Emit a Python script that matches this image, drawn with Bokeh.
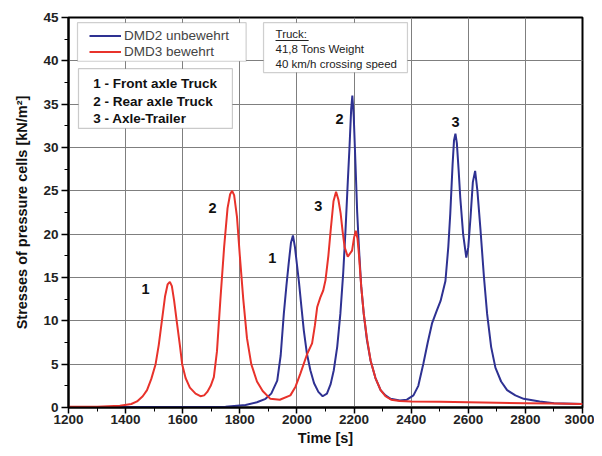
from bokeh.plotting import figure
from bokeh.models import (Range1d, SingleIntervalTicker, Legend, LegendItem,
                          BoxAnnotation, Label)
from bokeh.embed import file_html
from bokeh.resources import INLINE

# ---- data ----
red_time = [1200, 1300, 1380, 1420, 1440, 1460, 1475, 1490, 1505, 1516, 1527, 1538,
            1547, 1555, 1562, 1570, 1580, 1590, 1598, 1610, 1625, 1645, 1662, 1675,
            1686, 1698, 1709, 1720, 1732, 1745, 1757, 1766, 1773, 1780, 1790, 1800,
            1812, 1825, 1840, 1860, 1880, 1907, 1940, 1977, 1995, 2012, 2036, 2053,
            2063, 2071, 2082, 2092, 2100, 2110, 2118, 2128, 2137, 2145, 2153, 2160,
            2167, 2178, 2193, 2200, 2206, 2212, 2217, 2225, 2234, 2245, 2258, 2275,
            2293, 2310, 2330, 2360, 2400, 2500, 2600, 2700, 2800, 2900, 3000]
red_stress = [0.1, 0.1, 0.2, 0.4, 0.7, 1.3, 2.0, 3.3, 5.0, 7.2, 10.0, 12.8,
              14.2, 14.5, 14.0, 12.3, 9.7, 7.2, 5.0, 3.4, 2.3, 1.6, 1.3, 1.4,
              1.8, 2.5, 3.5, 6.5, 12.5, 18.5, 23.0, 24.6, 25.0, 24.5, 22.0, 17.5,
              12.5, 8.0, 5.0, 3.0, 1.9, 1.0, 0.9, 1.4, 2.4, 3.9, 6.2, 7.4,
              9.5, 11.6, 12.7, 13.5, 14.7, 17.5, 20.4, 23.8, 24.9, 24.0, 22.4, 20.3,
              18.5, 17.4, 18.1, 19.6, 20.4, 19.5, 17.7, 14.0, 10.8, 8.0, 5.4, 3.4,
              2.0, 1.3, 0.9, 0.75, 0.7, 0.65, 0.6, 0.55, 0.5, 0.45, 0.4]

blue_time = [1200, 1400, 1600, 1750, 1820, 1860, 1890, 1910, 1931, 1943, 1954, 1963,
             1971, 1979, 1986, 1993, 2000, 2007, 2016, 2024, 2035, 2047, 2060, 2075,
             2090, 2105, 2118, 2129, 2141, 2152, 2162, 2170, 2178, 2184, 2190, 2194,
             2199, 2205, 2211, 2217, 2225, 2234, 2245, 2258, 2275, 2293, 2310, 2328,
             2360, 2385, 2408, 2425, 2443, 2458, 2473, 2490, 2503, 2520, 2530, 2537,
             2545, 2550, 2555, 2560, 2566, 2572, 2582, 2593, 2600, 2608, 2616, 2624,
             2632, 2643, 2655, 2666, 2680, 2695, 2715, 2736, 2765, 2794, 2850, 2900,
             3000]
blue_stress = [0.05, 0.05, 0.05, 0.1, 0.3, 0.6, 1.0, 1.6, 3.1, 6.0, 10.8, 14.0,
               16.6, 19.0, 19.85, 18.5, 16.5, 14.5, 11.5, 8.9, 6.2, 4.3, 2.8, 1.8,
               1.3, 1.6, 2.7, 4.3, 7.0, 10.8, 15.5, 20.4, 26.0, 30.0, 34.5, 36.0,
               33.5, 28.1, 22.5, 18.5, 14.0, 10.8, 7.8, 5.4, 3.4, 2.0, 1.4, 1.0,
               0.8, 0.9, 1.4, 2.5, 5.1, 7.5, 9.7, 11.2, 12.3, 14.6, 18.5, 22.4,
               28.0, 30.8, 31.6, 30.5, 27.5, 24.2, 20.0, 17.3, 18.5, 22.0, 26.0, 27.3,
               25.0, 20.4, 15.0, 10.8, 7.0, 4.6, 3.0, 2.0, 1.4, 1.0, 0.7, 0.5,
               0.4]

series_names = ["DMD2 unbewehrt", "DMD3 bewehrt"]
peak_texts = ["1", "2", "1", "3", "2", "3"]
info_lines = ["1 - Front axle Truck", "2 - Rear axle Truck", "3 - Axle-Trailer"]
truck_lines = ["Truck:", "41,8 Tons Weight", "40 km/h crossing speed"]
x_label = "Time [s]"
y_label = "Stresses of pressure cells [kN/m²]"

BLUE = "#2e3192"
RED = "#e8322b"
FONT = "Liberation Sans"

p = figure(width=594, height=448, output_backend="svg", toolbar_location=None,
           x_range=Range1d(1200, 3000), y_range=Range1d(0, 45),
           min_border_left=68, min_border_right=12, min_border_top=17,
           min_border_bottom=41)
p.background_fill_color = "white"
p.outline_line_color = "black"
p.outline_line_width = 2

for ax, step, minor in ((p.xaxis[0], 200, 2), (p.yaxis[0], 5, 2)):
    ax.ticker = SingleIntervalTicker(interval=step, num_minor_ticks=minor)
    ax.axis_line_width = 2
    ax.axis_line_color = "black"
    ax.major_tick_line_width = 1.5
    ax.major_tick_out = 7
    ax.major_tick_in = 0
    ax.minor_tick_out = 4
    ax.minor_tick_in = 0
    ax.major_label_text_font = FONT
    ax.major_label_text_font_style = "bold"
    ax.major_label_text_font_size = "13.5px"
    ax.major_label_text_color = "#222222"
    ax.axis_label_text_font = FONT
    ax.axis_label_text_font_style = "bold"
    ax.axis_label_text_font_size = "14.5px"
    ax.axis_label_text_color = "#111111"
p.xaxis.axis_label = x_label
p.yaxis.axis_label = y_label
p.xaxis.major_tick_out = 6
p.xaxis.axis_label_standoff = 3
p.yaxis.axis_label_standoff = 10
p.xaxis.major_label_standoff = 1
p.yaxis.major_label_standoff = 3

p.grid.grid_line_color = "#7f7f7f"
p.grid.grid_line_width = 1
p.grid.grid_line_alpha = 1.0

r_blue = p.line(blue_time, blue_stress, line_color=BLUE, line_width=2)
r_red = p.line(red_time, red_stress, line_color=RED, line_width=2)

# legend frame
p.add_layout(BoxAnnotation(left=1231.5, right=1822, top=44.4, bottom=39.95,
                           fill_color="white", fill_alpha=1.0,
                           line_color="#606060", line_width=1.2))
for name, rend, yloc in ((series_names[0], r_blue, 364.0), (series_names[1], r_red, 348.5)):
    lg = Legend(items=[LegendItem(label=name, renderers=[rend])],
                location=(21, yloc), margin=0, padding=0, spacing=0,
                label_text_font=FONT, label_text_font_size="13.5px",
                label_height=15, glyph_height=15, glyph_width=32, label_standoff=3,
                border_line_alpha=0, background_fill_alpha=0)
    p.add_layout(lg)

# info box (axles)
p.add_layout(BoxAnnotation(left=1235, right=1774, top=39.1, bottom=32.2,
                           fill_color="white", fill_alpha=1.0,
                           line_color="#505050", line_width=1.2))
for i, t in enumerate(info_lines):
    p.add_layout(Label(x=1287, y=37.4 - i * 2.05, text=t, text_font=FONT,
                       text_font_style="bold", text_font_size="13.5px",
                       text_baseline="middle", text_color="#111111"))

# truck box
p.add_layout(BoxAnnotation(left=1883, right=2387, top=44.4, bottom=38.65,
                           fill_color="white", fill_alpha=1.0,
                           line_color="#606060", line_width=1.2))
for i, t in enumerate(truck_lines):
    p.add_layout(Label(x=1925, y=43.05 - i * 1.73, text=t, text_font=FONT,
                       text_font_size="11.5px", text_baseline="middle",
                       text_color="#222222"))
p.add_layout(BoxAnnotation(left=1925, right=2041, top=42.4, bottom=42.3,
                           fill_color="#222222", fill_alpha=1.0, line_alpha=0))

# peak numbers
peak_pos = [(1470, 13.7), (1704, 23.0), (1914, 17.2), (2075, 23.2), (2149, 33.3), (2555, 32.9)]
for t, (px, py) in zip(peak_texts, peak_pos):
    p.add_layout(Label(x=px, y=py, text=t, text_font=FONT, text_font_style="bold",
                       text_font_size="14.5px", text_align="center",
                       text_baseline="middle", text_color="#111111"))

open("out.html", "w").write(file_html(p, INLINE))
